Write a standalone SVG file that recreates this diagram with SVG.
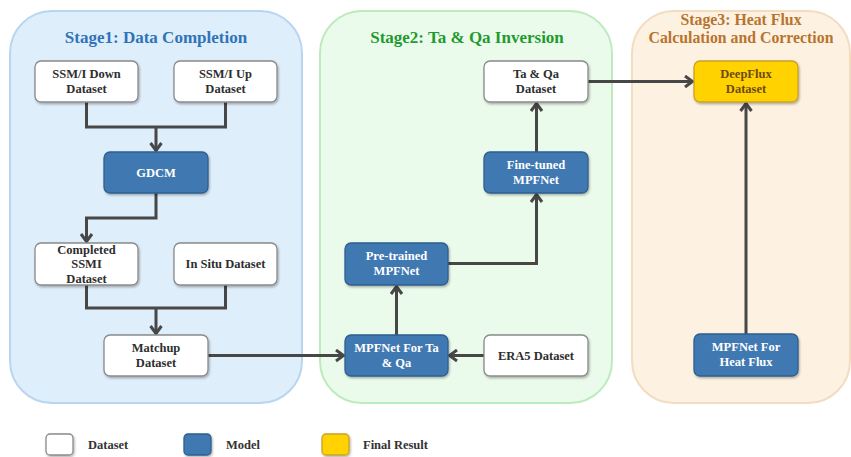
<svg xmlns="http://www.w3.org/2000/svg" width="851" height="457" viewBox="0 0 851 457">
  <defs>
    <filter id="shadow" x="-10%" y="-10%" width="130%" height="140%">
      <feDropShadow dx="1" dy="1.5" stdDeviation="1" flood-color="#000" flood-opacity="0.3"/>
    </filter>
    <marker id="arrow" markerUnits="userSpaceOnUse" viewBox="0 0 12 14" markerWidth="12" markerHeight="14" refX="10" refY="7" orient="auto">
      <path d="M2,1.5 L9.5,7 L2,12.5" fill="none" stroke="#474747" stroke-width="3" stroke-linejoin="miter"/>
    </marker>
    <style>
      .panel { stroke-width: 2; }
      .p1 { fill: #dfeefb; stroke: #b9d6f0; }
      .p2 { fill: #ebfbeb; stroke: #bdebbd; }
      .p3 { fill: #fdf1e2; stroke: #f3dcc0; }
      .title { font-family: "Liberation Serif", "Times New Roman", serif; font-weight: bold; font-size: 17px; text-anchor: middle; }
      .title3 { font-size: 15.8px; }
      .box { stroke-width: 1.3; filter: url(#shadow); }
      .data { fill: #ffffff; stroke: #8a8a8a; }
      .model { fill: #3f78b2; stroke: #2f5f8f; }
      .final { fill: #ffd200; stroke: #c9a227; }
      .lbl { font-family: "Liberation Serif", "Times New Roman", serif; font-weight: bold; font-size: 12.5px; text-anchor: middle; }
      .dark { fill: #2e2e2e; }
      .light { fill: #ffffff; }
      .brown { fill: #6e4a12; }
      .edge { fill: none; stroke: #474747; stroke-width: 3; }
      .legend { font-family: "Liberation Serif", "Times New Roman", serif; font-weight: bold; font-size: 12.5px; fill: #333333; }
    </style>
  </defs>

  <rect width="851" height="457" fill="#ffffff"/>

  <!-- stage panels -->
  <g id="stage1">
    <rect class="panel p1" x="10" y="11" width="292" height="392" rx="42"/>
    <text class="title" x="156" y="43" fill="#2f74b8">Stage1: Data Completion</text>
  </g>
  <g id="stage2">
    <rect class="panel p2" x="320" y="11" width="292" height="392" rx="42"/>
    <text class="title" x="467" y="43" fill="#1f9a2f">Stage2: Ta &amp; Qa Inversion</text>
  </g>
  <g id="stage3">
    <rect class="panel p3" x="632" y="11" width="218" height="392" rx="42"/>
    <text class="title title3" x="741" y="25" fill="#b7742e">Stage3: Heat Flux</text>
    <text class="title title3" x="741" y="43" fill="#b7742e">Calculation and Correction</text>
  </g>

  <!-- connectors -->
  <g id="connectors">
    <path class="edge" d="M86.5,102 V127 H225.5 V102"/>
    <path class="edge" d="M156,127 V151" marker-end="url(#arrow)"/>
    <path class="edge" d="M156,193 V218 H86.5 V242" marker-end="url(#arrow)"/>
    <path class="edge" d="M86.5,285 V308 H225.5 V285"/>
    <path class="edge" d="M156,308 V334" marker-end="url(#arrow)"/>
    <path class="edge" d="M208,355.5 H344" marker-end="url(#arrow)"/>
    <path class="edge" d="M484,355.5 H449" marker-end="url(#arrow)"/>
    <path class="edge" d="M396.5,335 V286" marker-end="url(#arrow)"/>
    <path class="edge" d="M448,263.5 H536.5 V194" marker-end="url(#arrow)"/>
    <path class="edge" d="M536.5,152 V103" marker-end="url(#arrow)"/>
    <path class="edge" d="M588,81.5 H693" marker-end="url(#arrow)"/>
    <path class="edge" d="M746,334 V103" marker-end="url(#arrow)"/>
  </g>

  <!-- stage 1 nodes -->
  <g id="ssmi-down">
    <rect class="box data" x="35" y="61" width="103" height="41" rx="6"/>
    <text class="lbl dark" x="86.5" y="78">SSM/I Down</text>
    <text class="lbl dark" x="86.5" y="93">Dataset</text>
  </g>
  <g id="ssmi-up">
    <rect class="box data" x="174" y="61" width="103" height="41" rx="6"/>
    <text class="lbl dark" x="225.5" y="78">SSM/I Up</text>
    <text class="lbl dark" x="225.5" y="93">Dataset</text>
  </g>
  <g id="gdcm">
    <rect class="box model" x="104" y="152" width="104" height="41" rx="6"/>
    <text class="lbl light" x="156" y="177">GDCM</text>
  </g>
  <g id="completed-ssmi">
    <rect class="box data" x="35" y="243" width="103" height="42" rx="6"/>
    <text class="lbl dark" x="86.5" y="253.5">Completed</text>
    <text class="lbl dark" x="86.5" y="268">SSMI</text>
    <text class="lbl dark" x="86.5" y="282.5">Dataset</text>
  </g>
  <g id="in-situ">
    <rect class="box data" x="174" y="243" width="103" height="42" rx="6"/>
    <text class="lbl dark" x="225.5" y="268">In Situ Dataset</text>
  </g>
  <g id="matchup">
    <rect class="box data" x="104" y="335" width="104" height="41" rx="6"/>
    <text class="lbl dark" x="156" y="352">Matchup</text>
    <text class="lbl dark" x="156" y="367">Dataset</text>
  </g>

  <!-- stage 2 nodes -->
  <g id="ta-qa-dataset">
    <rect class="box data" x="484" y="61" width="104" height="41" rx="6"/>
    <text class="lbl dark" x="536" y="78">Ta &amp; Qa</text>
    <text class="lbl dark" x="536" y="93">Dataset</text>
  </g>
  <g id="fine-tuned">
    <rect class="box model" x="484" y="152" width="104" height="41" rx="6"/>
    <text class="lbl light" x="536" y="169">Fine-tuned</text>
    <text class="lbl light" x="536" y="184">MPFNet</text>
  </g>
  <g id="pre-trained">
    <rect class="box model" x="345" y="243" width="103" height="42" rx="6"/>
    <text class="lbl light" x="396.5" y="260">Pre-trained</text>
    <text class="lbl light" x="396.5" y="275">MPFNet</text>
  </g>
  <g id="mpfnet-ta-qa">
    <rect class="box model" x="345" y="335" width="103" height="41" rx="6"/>
    <text class="lbl light" x="396.5" y="352">MPFNet For Ta</text>
    <text class="lbl light" x="396.5" y="367">&amp; Qa</text>
  </g>
  <g id="era5">
    <rect class="box data" x="484" y="335" width="104" height="41" rx="6"/>
    <text class="lbl dark" x="536" y="360">ERA5 Dataset</text>
  </g>

  <!-- stage 3 nodes -->
  <g id="deepflux">
    <rect class="box final" x="694" y="61" width="104" height="41" rx="6"/>
    <text class="lbl brown" x="746" y="78">DeepFlux</text>
    <text class="lbl brown" x="746" y="93">Dataset</text>
  </g>
  <g id="mpfnet-heat-flux">
    <rect class="box model" x="694" y="334" width="104" height="42" rx="6"/>
    <text class="lbl light" x="746" y="351">MPFNet For</text>
    <text class="lbl light" x="746" y="366">Heat Flux</text>
  </g>

  <!-- legend -->
  <g id="legend">
    <rect class="box data" x="46" y="434" width="27" height="21" rx="4"/>
    <text class="legend" x="88" y="449">Dataset</text>
    <rect class="box model" x="184" y="434" width="27" height="21" rx="4"/>
    <text class="legend" x="226" y="449">Model</text>
    <rect class="box final" x="322" y="434" width="27" height="21" rx="4"/>
    <text class="legend" x="363" y="449">Final Result</text>
  </g>
</svg>
